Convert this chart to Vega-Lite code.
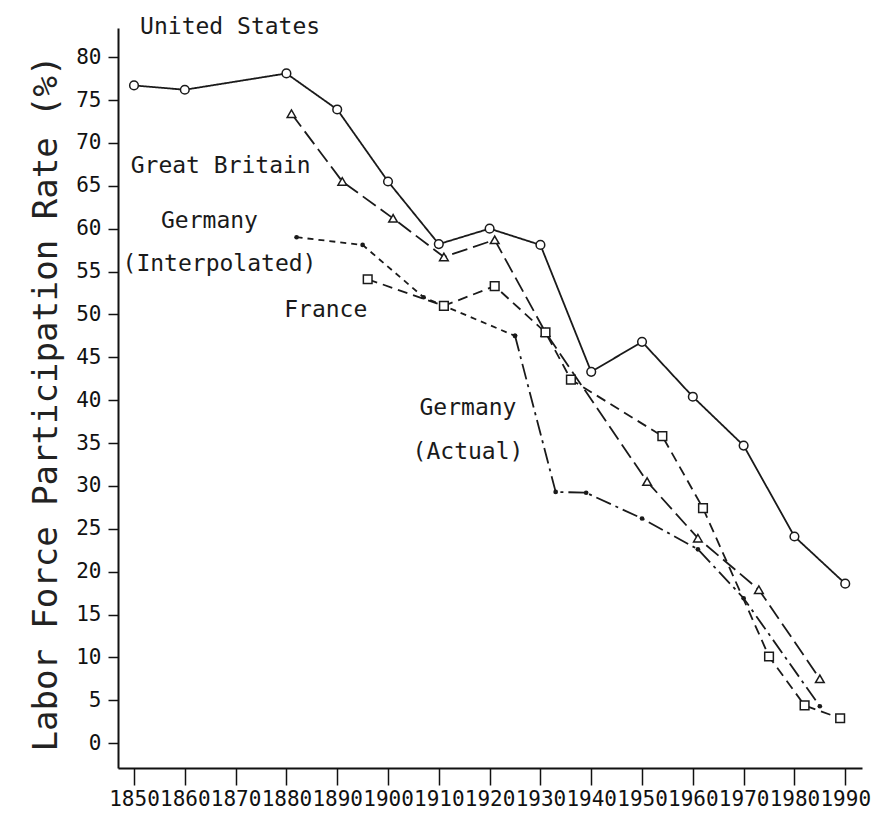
{
  "$schema": "https://vega.github.io/schema/vega-lite/v6.json",
  "width": 744,
  "height": 740,
  "autosize": {"type": "none"},
  "padding": {"left": 118, "top": 28, "right": 23, "bottom": 52},
  "background": "white",
  "config": {"view": {"stroke": null}, "font": "DejaVu Sans Mono"},
  "datasets": {
    "series": [
      {"series": "United States", "year": 1850, "value": 76.7},
      {"series": "United States", "year": 1860, "value": 76.2},
      {"series": "United States", "year": 1880, "value": 78.1},
      {"series": "United States", "year": 1890, "value": 73.9},
      {"series": "United States", "year": 1900, "value": 65.5},
      {"series": "United States", "year": 1910, "value": 58.2},
      {"series": "United States", "year": 1920, "value": 60.0},
      {"series": "United States", "year": 1930, "value": 58.1},
      {"series": "United States", "year": 1940, "value": 43.3},
      {"series": "United States", "year": 1950, "value": 46.8},
      {"series": "United States", "year": 1960, "value": 40.4},
      {"series": "United States", "year": 1970, "value": 34.7},
      {"series": "United States", "year": 1980, "value": 24.1},
      {"series": "United States", "year": 1990, "value": 18.6},
      {"series": "Great Britain", "year": 1881, "value": 73.4},
      {"series": "Great Britain", "year": 1891, "value": 65.5},
      {"series": "Great Britain", "year": 1901, "value": 61.2},
      {"series": "Great Britain", "year": 1911, "value": 56.7},
      {"series": "Great Britain", "year": 1921, "value": 58.7},
      {"series": "Great Britain", "year": 1931, "value": 47.9},
      {"series": "Great Britain", "year": 1951, "value": 30.5},
      {"series": "Great Britain", "year": 1961, "value": 23.9},
      {"series": "Great Britain", "year": 1973, "value": 17.9},
      {"series": "Great Britain", "year": 1985, "value": 7.5},
      {"series": "France", "year": 1896, "value": 54.1},
      {"series": "France", "year": 1911, "value": 51.0},
      {"series": "France", "year": 1921, "value": 53.3},
      {"series": "France", "year": 1931, "value": 47.9},
      {"series": "France", "year": 1936, "value": 42.4},
      {"series": "France", "year": 1954, "value": 35.8},
      {"series": "France", "year": 1962, "value": 27.4},
      {"series": "France", "year": 1975, "value": 10.1},
      {"series": "France", "year": 1982, "value": 4.4},
      {"series": "France", "year": 1989, "value": 2.9},
      {"series": "Germany (Interpolated)", "year": 1882, "value": 59.0},
      {"series": "Germany (Interpolated)", "year": 1895, "value": 58.1},
      {"series": "Germany (Interpolated)", "year": 1907, "value": 52.0},
      {"series": "Germany (Interpolated)", "year": 1925, "value": 47.5},
      {"series": "Germany (Actual)", "year": 1925, "value": 47.5},
      {"series": "Germany (Actual)", "year": 1933, "value": 29.3},
      {"series": "Germany (Actual)", "year": 1939, "value": 29.2},
      {"series": "Germany (Actual)", "year": 1950, "value": 26.2},
      {"series": "Germany (Actual)", "year": 1961, "value": 22.6},
      {"series": "Germany (Actual)", "year": 1970, "value": 16.9},
      {"series": "Germany (Actual)", "year": 1985, "value": 4.3}
    ],
    "labels_left": [
      {"text": "United States", "year": 1851.2, "value": 83.5},
      {"text": "Great Britain", "year": 1849.35, "value": 67.3}
    ],
    "labels_center": [
      {"text": "Germany", "year": 1864.86, "value": 60.9},
      {"text": "(Interpolated)", "year": 1866.83, "value": 55.9},
      {"text": "France", "year": 1887.75, "value": 50.5},
      {"text": "Germany", "year": 1915.74, "value": 39.1},
      {"text": "(Actual)", "year": 1915.74, "value": 34.0}
    ]
  },
  "layer": [
    {
      "data": {"name": "series"},
      "mark": {"type": "line", "color": "#1a1a1a", "strokeWidth": 1.8},
      "encoding": {
        "x": {
          "field": "year", "type": "quantitative",
          "scale": {"domain": [1846.85, 1993.3], "nice": false, "zero": false},
          "axis": {
            "values": [1850, 1860, 1870, 1880, 1890, 1900, 1910, 1920, 1930, 1940, 1950, 1960, 1970, 1980, 1990],
            "format": "d", "title": null, "grid": false,
            "tickSize": 17, "tickWidth": 1.5, "tickColor": "#111",
            "domainColor": "#111", "domainWidth": 2,
            "labelPadding": 3, "labelFontSize": 21, "labelFont": "DejaVu Sans Mono", "labelColor": "#111",
            "labelOverlap": false, "labelFlush": false
          }
        },
        "y": {
          "field": "value", "type": "quantitative",
          "scale": {"domain": [-2.9, 83.4], "nice": false, "zero": false},
          "axis": {
            "values": [0, 5, 10, 15, 20, 25, 30, 35, 40, 45, 50, 55, 60, 65, 70, 75, 80],
            "title": "Labor Force Participation Rate (%)", "grid": false,
            "tickSize": 10, "tickWidth": 1.5, "tickColor": "#111",
            "domainColor": "#111", "domainWidth": 2,
            "labelPadding": 7, "labelFontSize": 21, "labelFont": "DejaVu Sans Mono", "labelColor": "#111",
            "labelOverlap": false, "labelFlush": false,
            "titleFont": "DejaVu Sans Mono", "titleFontSize": 34, "titleFontWeight": "normal", "titleColor": "#222",
            "titleX": -72, "titleY": 375, "titleBaseline": "middle"
          }
        },
        "strokeDash": {
          "field": "series", "type": "nominal", "legend": null,
          "scale": {
            "domain": ["United States", "Great Britain", "France", "Germany (Interpolated)", "Germany (Actual)"],
            "range": [[1, 0], [16, 6], [10, 6], [6, 5], [16, 5, 3, 5]]
          }
        }
      }
    },
    {
      "data": {"name": "series"},
      "transform": [{"filter": "datum.series === 'United States' || datum.series === 'Great Britain' || datum.series === 'France'"}],
      "mark": {"type": "point", "fill": "white", "stroke": "#1a1a1a", "strokeWidth": 1.5, "opacity": 1, "size": 75},
      "encoding": {
        "x": {"field": "year", "type": "quantitative"},
        "y": {"field": "value", "type": "quantitative"},
        "shape": {
          "field": "series", "type": "nominal", "legend": null,
          "scale": {"domain": ["United States", "Great Britain", "France"], "range": ["circle", "triangle-up", "square"]}
        }
      }
    },
    {
      "data": {"name": "series"},
      "transform": [{"filter": "datum.series === 'Germany (Interpolated)' || datum.series === 'Germany (Actual)'"}],
      "mark": {"type": "point", "shape": "circle", "filled": true, "color": "#1a1a1a", "opacity": 1, "size": 22},
      "encoding": {
        "x": {"field": "year", "type": "quantitative"},
        "y": {"field": "value", "type": "quantitative"}
      }
    },
    {
      "data": {"name": "labels_left"},
      "mark": {"type": "text", "font": "DejaVu Sans Mono", "fontSize": 23, "color": "#1a1a1a", "baseline": "middle", "align": "left"},
      "encoding": {
        "x": {"field": "year", "type": "quantitative"},
        "y": {"field": "value", "type": "quantitative"},
        "text": {"field": "text"}
      }
    },
    {
      "data": {"name": "labels_center"},
      "mark": {"type": "text", "font": "DejaVu Sans Mono", "fontSize": 23, "color": "#1a1a1a", "baseline": "middle", "align": "center"},
      "encoding": {
        "x": {"field": "year", "type": "quantitative"},
        "y": {"field": "value", "type": "quantitative"},
        "text": {"field": "text"}
      }
    }
  ]
}
